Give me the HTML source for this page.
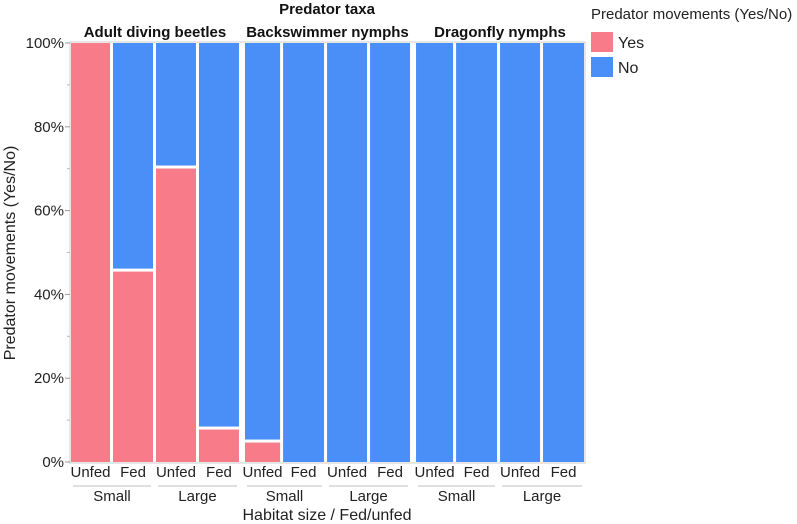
<!DOCTYPE html>
<html><head><meta charset="utf-8"><style>
body{margin:0;background:#fff;}
svg{display:block;font-family:"Liberation Sans",sans-serif;}
</style></head><body>
<svg id="c" width="797" height="524"></svg>
<script>
const taxa = ["Adult diving beetles","Backswimmer nymphs","Dragonfly nymphs"];
const habitats = ["Small","Large"];
const feeding = ["Unfed","Fed"];
const yesPct = [100,45.8,70.4,8.1, 5,0,0,0, 0,0,0,0];
const counts = [40,41,41,41, 36,42,41,41, 38,42,41,42];
const yTicks = [0,20,40,60,80,100];

const svg=document.getElementById('c');
const NS="http://www.w3.org/2000/svg";
function mk(t,a,txt){const e=document.createElementNS(NS,t);for(const k in a)e.setAttribute(k,a[k]);if(txt!==undefined)e.textContent=txt;svg.appendChild(e);return e;}
const X0=71,X1=584,Y0=462,Y1=43,GAP=3,PGAP=3;
const y=v=>Y0-(v/100)*(Y0-Y1);
const fr=mk('rect',{x:X0-1,y:Y1-1,width:X1-X0+2,height:Y0-Y1+2,fill:'none',stroke:'#ccc','stroke-width':1});


yTicks.forEach(t=>{
 const l=mk('line',{x1:X0-6,x2:X0-1,y1:y(t),y2:y(t),stroke:'#999'});
 
 
 const tx=mk('text',{x:X0-7,y:y(t)+5,'text-anchor':'end','font-size':15,fill:'#222'},t+'%');
 
 
});
for(let t=10;t<100;t+=20){const l=mk('line',{x1:X0-4,x2:X0-1,y1:y(t),y2:y(t),stroke:'#bbb'});
 
 }
const total=counts.reduce((a,b)=>a+b,0);
const avail=(X1-X0)-GAP*(counts.length-1)-PGAP*2;
let cx=X0;const bx=[];
counts.forEach((c,i)=>{const w=avail*c/total;bx.push([cx,w]);cx+=w+GAP+((i%4==3)?PGAP:0);});
bx.forEach(([x,w],i)=>{
 const yes=yesPct[i];
 if(yes<100){const r=mk('rect',{x:x,y:Y1,width:w,height:Math.max(0,y(yes)-Y1-(yes>0?1.5:0)),fill:'#4A8FF7'});
  
  }
 if(yes>0){const yt=y(yes)+(yes<100?1.5:0);const r=mk('rect',{x:x,y:yt,width:w,height:Y0-yt,fill:'#F77B89'});
  
  }
 const t=mk('text',{x:x+w/2,y:477,'text-anchor':'middle','font-size':15,fill:'#222'},feeding[i%2]);
 
 
});
for(let h=0;h<6;h++){
 const a=bx[h*2],b=bx[h*2+1];const xa=a[0],xb=b[0]+b[1];
 const l=mk('line',{x1:xa+2,x2:xb-2,y1:486,y2:486,stroke:'#ccc','stroke-width':1.2});
 
 
 const t=mk('text',{x:(xa+xb)/2,y:501,'text-anchor':'middle','font-size':15,fill:'#222'},habitats[h%2]);
 
 
}
for(let p=0;p<3;p++){
 const xa=bx[p*4][0],b=bx[p*4+3],xb=b[0]+b[1];
 const t=mk('text',{x:(xa+xb)/2,y:37,'text-anchor':'middle','font-size':15,'font-weight':'bold',fill:'#111'},taxa[p]);
 
 
}
let t=mk('text',{x:327,y:14,'text-anchor':'middle','font-size':15,'font-weight':'bold',fill:'#111'},'Predator taxa');


t=mk('text',{x:327,y:520,'text-anchor':'middle','font-size':16,fill:'#222'},'Habitat size / Fed/unfed');


t=mk('text',{x:0,y:0,'text-anchor':'middle','font-size':16,fill:'#222',transform:'translate(15,253) rotate(-90)'},'Predator movements (Yes/No)');


t=mk('text',{x:591,y:19,'font-size':15,fill:'#222'},'Predator movements (Yes/No)');


[['Yes','#F77B89'],['No','#4A8FF7']].forEach((d,i)=>{
 const r=mk('rect',{x:591,y:32+i*25,width:22,height:20,fill:d[1]});
 
 
 const tx=mk('text',{x:618,y:48+i*25,'font-size':16,fill:'#222'},d[0]);
 
 
});
</script>
</body></html>
